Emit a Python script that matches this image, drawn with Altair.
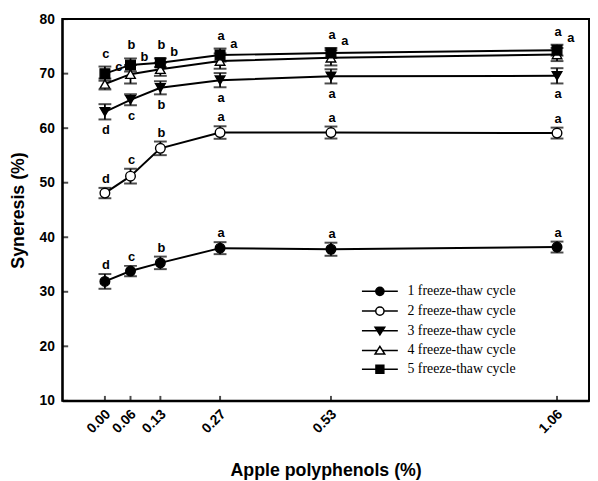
import altair as alt
import pandas as pd

# ---- data ----
x_vals = [0.00, 0.06, 0.13, 0.27, 0.53, 1.06]
series_names = ["1 freeze-thaw cycle", "2 freeze-thaw cycle", "3 freeze-thaw cycle",
                "4 freeze-thaw cycle", "5 freeze-thaw cycle"]
s1 = [31.9, 33.8, 35.3, 38.0, 37.8, 38.2]
e1 = [1.35, 0.95, 1.15, 1.1, 1.2, 1.0]
s2 = [48.1, 51.2, 56.3, 59.2, 59.2, 59.1]
e2 = [0.95, 1.35, 1.25, 1.15, 1.1, 1.0]
s3 = [63.0, 65.2, 67.4, 68.8, 69.5, 69.6]
e3 = [1.4, 1.0, 1.2, 1.3, 1.3, 1.4]
s4 = [68.1, 69.9, 70.8, 72.3, 72.9, 73.5]
e4 = [1.0, 1.7, 1.2, 1.4, 1.4, 1.2]
s5 = [70.0, 71.6, 72.0, 73.4, 73.8, 74.3]
e5 = [1.3, 1.2, 0.8, 1.2, 0.9, 1.0]
l1 = ["d", "c", "b", "a", "a", "a"]
l2 = ["d", "c", "b", "a", "a", "a"]
l3 = ["d", "c", "b", "a", "a", "a"]
l4 = ["c", "b", "b", "a", "a", "a"]
l5 = ["c", "b", "b", "a", "a", "a"]
y_ticks = [10, 20, 30, 40, 50, 60, 70, 80]

rows = []
for name, means, errs, letters in zip(series_names, [s1, s2, s3, s4, s5],
                                      [e1, e2, e3, e4, e5], [l1, l2, l3, l4, l5]):
    for xv, m, e, lt in zip(x_vals, means, errs, letters):
        rows.append(dict(series=name, x=xv, mean=m, lo=m - e, hi=m + e, letter=lt))
df = pd.DataFrame(rows)
xt_df = pd.DataFrame({"t": x_vals})
yt_df = pd.DataFrame({"t": y_ticks})

plot_shapes = ["circle", "circle", "triangle-down", "triangle-up", "square"]
fills = ["black", "white", "black", "white", "black"]
strokes = ["black"] * 5
circ = "M-0.6,0A0.6,0.6,0,1,1,0.6,0A0.6,0.6,0,1,1,-0.6,0Z"
legend_paths = [
    "M-2.6,0H2.6" + circ,
    "M-2.6,0H-0.6M0.6,0H2.6" + circ,
    "M-2.6,0H2.6M0,0.6L0.7,-0.5L-0.7,-0.5Z",
    "M-2.6,0H-0.4M0.4,0H2.6M0,-0.6L0.7,0.5L-0.7,0.5Z",
    "M-2.6,0H2.6M-0.57,-0.57H0.57V0.57H-0.57Z",
]

W, H = 534, 387
FONT = "Liberation Sans"
X_MIN, X_MAX = -0.1, 1.135
Y_MIN, Y_MAX = 10, 80
xs = alt.Scale(domain=[X_MIN, X_MAX], nice=False, zero=False)
ys = alt.Scale(domain=[Y_MIN, Y_MAX], nice=False, zero=False)

base = alt.Chart(df)

x_main = alt.X("x:Q", scale=xs, title="Apple polyphenols (%)",
               axis=alt.Axis(values=x_vals, format=".2f", labelAngle=-45, labelAlign="right",
                             labelBaseline="middle", tickSize=0, labelPadding=11, labelOffset=3,
                             labelOverlap=False, labelFlush=False, labelBound=False,
                             domainWidth=2, domainColor="black", grid=False,
                             labelFont=FONT, labelFontWeight="bold", labelFontSize=14,
                             labelColor="black", titleFont=FONT, titleFontWeight="bold",
                             titleFontSize=18, titleColor="black", titlePadding=26))
y_main = alt.Y("mean:Q", scale=ys, title="Syneresis (%)",
               axis=alt.Axis(values=y_ticks, tickSize=0, labelPadding=8,
                             labelOverlap=False, labelFlush=False,
                             domainWidth=2, domainColor="black", grid=False,
                             labelFont=FONT, labelFontWeight="bold", labelFontSize=14,
                             labelColor="black", titleFont=FONT, titleFontWeight="bold",
                             titleFontSize=18, titleColor="black", titlePadding=12))

lines = base.mark_line(color="black", strokeWidth=2).encode(
    x=x_main, y=y_main, detail="series:N")

x_none = alt.X("x:Q", scale=xs, axis=None)

# inward tick marks at the axis tick values
x_inticks = alt.Chart(xt_df).mark_tick(color="black", size=5, thickness=2, orient="vertical",
                                       yOffset=-2.5).encode(
    x=alt.X("t:Q", scale=xs, axis=None), y=alt.datum(Y_MIN, scale=ys, axis=None))
y_inticks = alt.Chart(yt_df).mark_tick(color="black", size=6, thickness=2, orient="horizontal",
                                       xOffset=3).encode(
    y=alt.Y("t:Q", scale=ys, axis=None), x=alt.datum(X_MIN, scale=xs, axis=None))

rules = base.mark_rule(color="black", strokeWidth=1.8).encode(
    x=x_none, y=alt.Y("lo:Q", scale=ys, axis=None), y2="hi:Q")

cap_lo = base.mark_tick(color="black", size=13, thickness=2, orient="horizontal").encode(
    x=x_none, y=alt.Y("lo:Q", scale=ys, axis=None))
cap_hi = base.mark_tick(color="black", size=13, thickness=2, orient="horizontal").encode(
    x=x_none, y=alt.Y("hi:Q", scale=ys, axis=None))

points = base.mark_point(filled=True, size=95, stroke="black", strokeWidth=1.4, opacity=1).encode(
    x=x_none, y=alt.Y("mean:Q", scale=ys, axis=None),
    shape=alt.Shape("series:N", scale=alt.Scale(domain=series_names, range=plot_shapes), legend=None),
    fill=alt.Fill("series:N", scale=alt.Scale(domain=series_names, range=fills), legend=None))

leg = alt.Legend(orient="none", legendX=314, legendY=268, title=None,
                 labelFont="Liberation Serif", labelFontSize=14, labelColor="black",
                 symbolSize=196, symbolStrokeWidth=1.5, symbolStrokeColor="black",
                 symbolOpacity=1, rowPadding=4, labelOffset=20, padding=0)
legend_layer = base.mark_point(filled=True, strokeWidth=1.5, opacity=0).encode(
    x=x_none, y=alt.Y("mean:Q", scale=ys, axis=None),
    stroke=alt.Stroke("series:N", scale=alt.Scale(domain=series_names, range=strokes), legend=leg),
    shape=alt.Shape("series:N", scale=alt.Scale(domain=series_names, range=legend_paths), legend=leg),
    fill=alt.Fill("series:N", scale=alt.Scale(domain=series_names, range=fills), legend=leg))


def letters(names, field, **kw):
    return base.transform_filter(
        alt.FieldOneOfPredicate(field="series", oneOf=names)
    ).mark_text(font=FONT, fontWeight="bold", fontSize=13, color="black", align="center", **kw).encode(
        x=x_none, y=alt.Y(f"{field}:Q", scale=ys, axis=None), text="letter:N")


t12 = letters(series_names[0:2], "hi", baseline="alphabetic", dx=1, dy=-5)
t5 = letters(series_names[4:5], "hi", baseline="alphabetic", dx=1, dy=-9)
t3 = letters(series_names[2:3], "lo", baseline="top", dx=1, dy=5)
t4 = letters(series_names[3:4], "mean", baseline="middle", dx=14, dy=-17)

chart = alt.layer(lines, x_inticks, y_inticks, rules, cap_lo, cap_hi, points, legend_layer,
                  t12, t5, t3, t4).resolve_axis(x="independent", y="independent").resolve_scale(
    shape="independent", fill="independent", stroke="independent").properties(
    width=W, height=H, autosize=alt.AutoSizeParams(type="none"),
    padding={"left": 55, "top": 8, "right": 1, "bottom": 78}, background="white"
).configure_view(stroke="black", strokeWidth=2)

chart.save("out.html", embed_options={"renderer": "svg", "actions": False})
